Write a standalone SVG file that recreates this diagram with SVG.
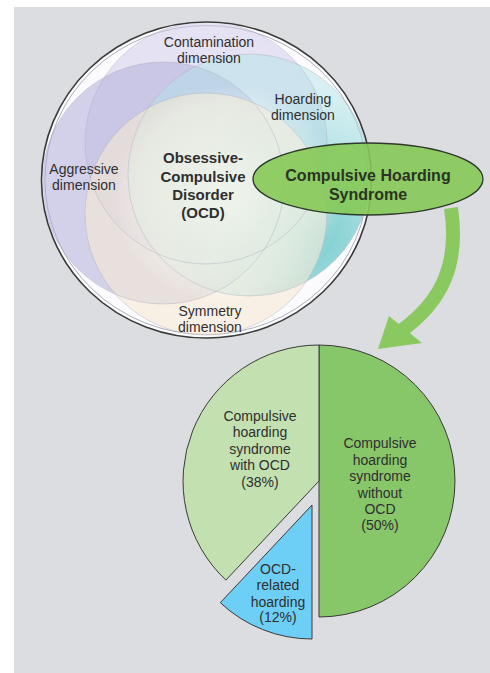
<svg xmlns="http://www.w3.org/2000/svg" width="490" height="673" viewBox="0 0 490 673">
<defs>
<style>
.t{font-family:"Liberation Sans",Arial,sans-serif;fill:#2f2f2f;text-anchor:middle}
.lab{font-size:14px}
.b{font-size:15px;font-weight:bold}
.pie{font-size:14px}
.ring{fill:none;stroke:#a9a9bd;stroke-width:0.5;stroke-opacity:0.8}
.slice{stroke:#3a3a3a;stroke-width:1}
</style>
<radialGradient id="hoardG" cx="0.75" cy="0.75" r="0.6">
<stop offset="0" stop-color="#5cc2c4" stop-opacity="0.85"/>
<stop offset="1" stop-color="#b4e4e8" stop-opacity="0.5"/>
</radialGradient>
<radialGradient id="glow" cx="0.5" cy="0.5" r="0.5">
<stop offset="0" stop-color="#f4f8ef" stop-opacity="0.85"/>
<stop offset="0.7" stop-color="#eef5ea" stop-opacity="0.5"/>
<stop offset="1" stop-color="#ffffff" stop-opacity="0"/>
</radialGradient>
<clipPath id="outerClip"><ellipse cx="206.5" cy="180" rx="164" ry="157"/></clipPath>
</defs>
<rect x="0" y="0" width="490" height="673" fill="#ffffff"/>
<rect x="14" y="7" width="476" height="666" fill="#dcdde0"/>

<g id="ocd">
<ellipse cx="206.5" cy="180" rx="165" ry="158" fill="#fbfbfd" stroke="#3a3a3a" stroke-width="1.6"/>
<ellipse cx="206.5" cy="180" rx="161.5" ry="154.5" fill="none" stroke="#9a9aa8" stroke-width="0.8"/>
<g clip-path="url(#outerClip)">
<circle id="contamination-c" cx="206" cy="143" r="121" fill="#d3cdeb" fill-opacity="0.55"/>
<circle id="aggressive-c" cx="163" cy="183" r="121" fill="#b3aedb" fill-opacity="0.55"/>
<circle id="hoarding-c" cx="249" cy="175" r="121" fill="url(#hoardG)"/>
<circle id="symmetry-c" cx="206" cy="214" r="121" fill="#f7ead3" fill-opacity="0.6"/>
<ellipse cx="228" cy="195" rx="115" ry="110" fill="url(#glow)"/>
<circle class="ring" cx="206" cy="143" r="121"/>
<circle class="ring" cx="163" cy="183" r="121"/>
<circle class="ring" cx="249" cy="175" r="121"/>
<circle class="ring" cx="206" cy="214" r="121"/>
</g>
<text class="t b" x="203" y="163">Obsessive-</text>
<text class="t b" x="203" y="182">Compulsive</text>
<text class="t b" x="203" y="200">Disorder</text>
<text class="t b" x="203" y="218">(OCD)</text>
</g>
<g id="contamination"><text class="t lab" x="209" y="47">Contamination</text><text class="t lab" x="209" y="63">dimension</text></g>
<g id="hoarding"><text class="t lab" x="303" y="104">Hoarding</text><text class="t lab" x="303" y="120">dimension</text></g>
<g id="aggressive"><text class="t lab" x="84" y="174">Aggressive</text><text class="t lab" x="84" y="190">dimension</text></g>
<g id="symmetry"><text class="t lab" x="210" y="316">Symmetry</text><text class="t lab" x="210" y="332">dimension</text></g>

<g id="connectors">
<path d="M451,208 C459,262 444,300 401,331" fill="none" stroke="#8ac860" stroke-width="14"/>
<polygon points="378,349 389,316 422,343" fill="#8ac860"/>
</g>

<g id="chs">
<ellipse cx="368" cy="179" rx="115" ry="36" fill="#86c957" fill-opacity="0.9" stroke="#2f3a2a" stroke-width="1.3"/>
<text class="t" x="368" y="181" style="font-size:16px;font-weight:bold;fill:#2a3422">Compulsive Hoarding</text>
<text class="t" x="368" y="200" style="font-size:16px;font-weight:bold;fill:#2a3422">Syndrome</text>
</g>

<g id="without-ocd">
<path class="slice" d="M319,345 A136,136 0 0 1 319,617 Z" fill="#88c66a"/>
<text class="t pie" x="380" y="448">Compulsive</text>
<text class="t pie" x="380" y="465">hoarding</text>
<text class="t pie" x="380" y="481">syndrome</text>
<text class="t pie" x="380" y="498">without</text>
<text class="t pie" x="380" y="514">OCD</text>
<text class="t pie" x="380" y="530">(50%)</text>
</g>
<g id="with-ocd">
<path class="slice" d="M319,481 L319,345 A136,136 0 0 0 225.9,580.1 Z" fill="#c2e0b0"/>
<text class="t pie" x="260" y="421">Compulsive</text>
<text class="t pie" x="260" y="437">hoarding</text>
<text class="t pie" x="260" y="454">syndrome</text>
<text class="t pie" x="260" y="470">with OCD</text>
<text class="t pie" x="260" y="487">(38%)</text>
</g>
<g id="ocd-related">
<path class="slice" d="M312,505 L220.3,602.7 A134,134 0 0 0 312,639 Z" fill="#6dcff6"/>
<text class="t pie" x="278" y="574">OCD-</text>
<text class="t pie" x="278" y="590">related</text>
<text class="t pie" x="278" y="607">hoarding</text>
<text class="t pie" x="278" y="622">(12%)</text>
</g>
</svg>
